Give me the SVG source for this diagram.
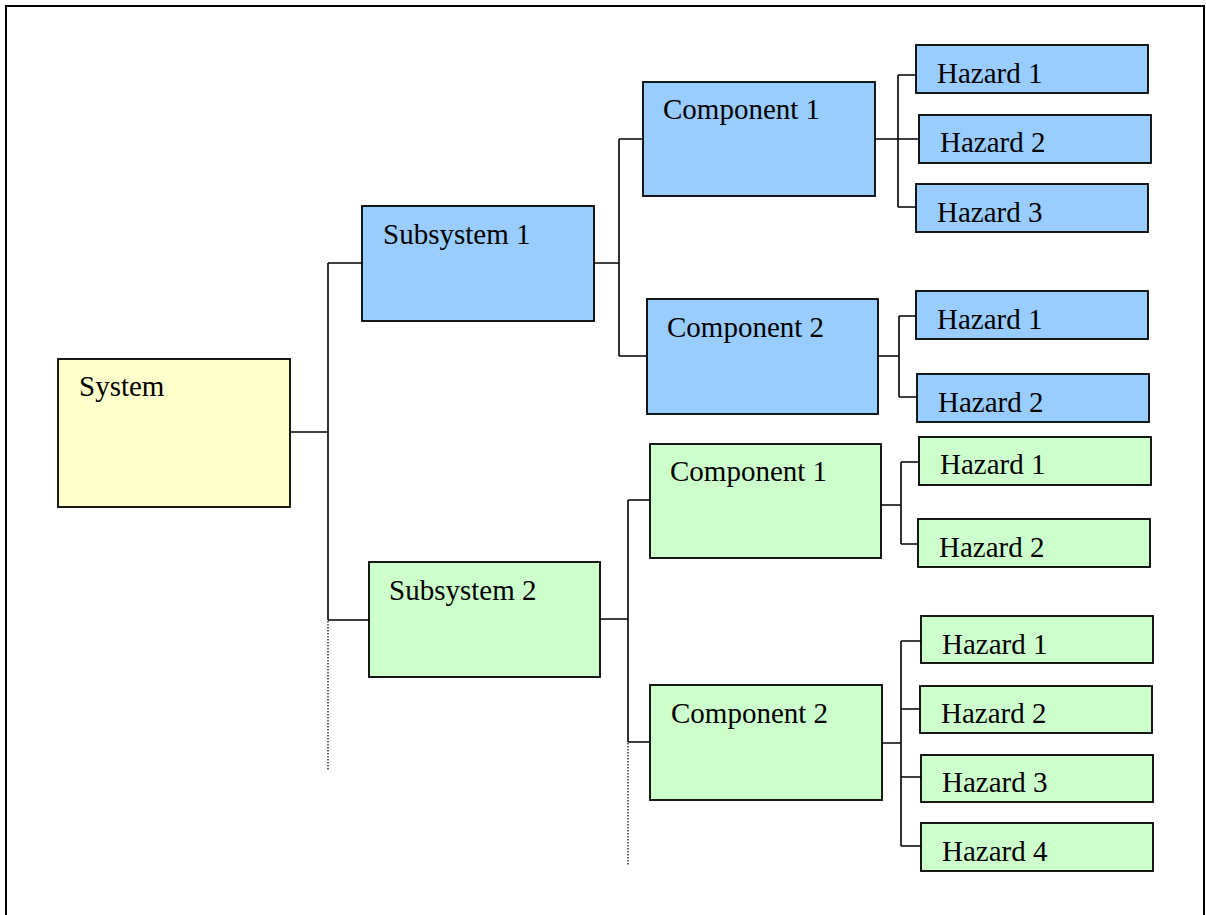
<svg xmlns="http://www.w3.org/2000/svg" width="1206" height="915" viewBox="0 0 1206 915">
<style>
.box{stroke:#000;stroke-width:1.8}
.y{fill:#FFFFCC}.b{fill:#99CCFF}.g{fill:#CCFFCC}
text{font-family:"Liberation Serif","Times New Roman",serif;font-size:29px;fill:#000}
.c line,.c path{stroke:#000;stroke-width:1.6;fill:none}
.c .dot{stroke-width:1.2;stroke-dasharray:1.5 1.5}
</style>
<rect width="1206" height="915" fill="#fff"/>
<rect x="6" y="6" width="1198" height="930" fill="none" stroke="#000" stroke-width="2"/>
<g class="c" id="connectors">
<path d="M290 432H328M328 263V620M328 263H362M328 620H369"/>
<line class="dot" x1="328" y1="621" x2="328" y2="770"/>
<path d="M594 263H619M619 139V356M619 139H643M619 356H647"/>
<path d="M600 619H628M628 500V742M628 500H650M628 742H650"/>
<line class="dot" x1="628" y1="743" x2="628" y2="866"/>
<path d="M875 139H919M898 75V207M898 75H916M898 207H916"/>
<path d="M878 356H899M899 316V397M899 316H916M899 397H917"/>
<path d="M881 505H901M901 462V544M901 462H919M901 544H918"/>
<path d="M882 743H901M901 641V846M901 641H921M901 709H920M901 777H921M901 846H921"/>
</g>
<g id="system"><rect class="box y" x="58" y="359" width="232" height="148"/><text x="79" y="396">System</text></g>
<g id="subsystem1"><rect class="box b" x="362" y="206" width="232" height="115"/><text x="383" y="244">Subsystem 1</text></g>
<g id="subsystem2"><rect class="box g" x="369" y="562" width="231" height="115"/><text x="389" y="600">Subsystem 2</text></g>
<g id="s1c1"><rect class="box b" x="643" y="82" width="232" height="114"/><text x="663" y="119">Component 1</text></g>
<g id="s1c2"><rect class="box b" x="647" y="299" width="231" height="115"/><text x="667" y="337">Component 2</text></g>
<g id="s2c1"><rect class="box g" x="650" y="444" width="231" height="114"/><text x="670" y="481">Component 1</text></g>
<g id="s2c2"><rect class="box g" x="650" y="685" width="232" height="115"/><text x="671" y="723">Component 2</text></g>
<g id="s1c1h1"><rect class="box b" x="916" y="45" width="232" height="48"/><text x="937" y="83">Hazard 1</text></g>
<g id="s1c1h2"><rect class="box b" x="919" y="115" width="232" height="48"/><text x="940" y="152">Hazard 2</text></g>
<g id="s1c1h3"><rect class="box b" x="916" y="184" width="232" height="48"/><text x="937" y="222">Hazard 3</text></g>
<g id="s1c2h1"><rect class="box b" x="916" y="291" width="232" height="48"/><text x="937" y="329">Hazard 1</text></g>
<g id="s1c2h2"><rect class="box b" x="917" y="374" width="232" height="48"/><text x="938" y="412">Hazard 2</text></g>
<g id="s2c1h1"><rect class="box g" x="919" y="437" width="232" height="48"/><text x="940" y="474">Hazard 1</text></g>
<g id="s2c1h2"><rect class="box g" x="918" y="519" width="232" height="48"/><text x="939" y="557">Hazard 2</text></g>
<g id="s2c2h1"><rect class="box g" x="921" y="616" width="232" height="47"/><text x="942" y="654">Hazard 1</text></g>
<g id="s2c2h2"><rect class="box g" x="920" y="686" width="232" height="47"/><text x="941" y="723">Hazard 2</text></g>
<g id="s2c2h3"><rect class="box g" x="921" y="755" width="232" height="47"/><text x="942" y="792">Hazard 3</text></g>
<g id="s2c2h4"><rect class="box g" x="921" y="823" width="232" height="48"/><text x="942" y="861">Hazard 4</text></g>
</svg>
